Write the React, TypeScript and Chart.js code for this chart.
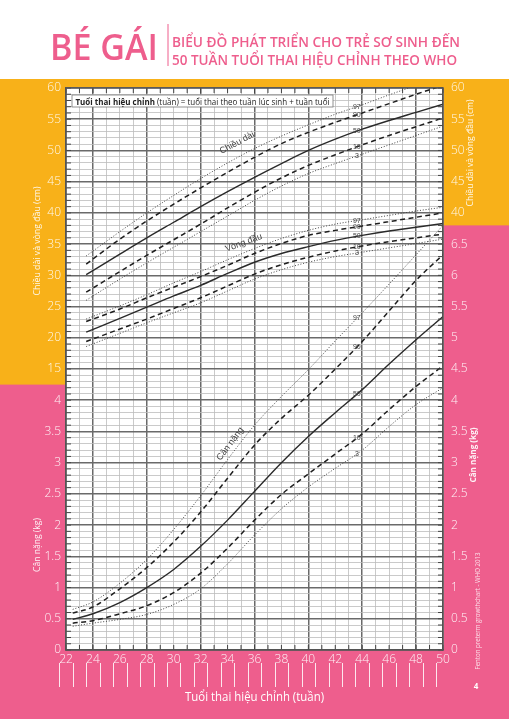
import React, { useEffect, useRef } from 'react';
import { Chart, registerables } from 'chart.js';

Chart.register(...registerables);

// Girls, Fenton preterm growth chart (WHO 2013)
const percentiles = ['97', '90', '50', '10', '3'];

const lengthWeeks = [23.5, 26, 28, 30, 32, 34, 36, 38, 40, 42, 44, 46, 48, 50];
const length97 = [33.1, 37.0, 40.0, 42.8, 45.5, 48.0, 50.3, 52.3, 54.1, 55.8, 57.3, 58.9, 60.4, 61.9];
const length90 = [31.8, 35.8, 38.7, 41.4, 44.0, 46.5, 48.9, 51.1, 52.9, 54.5, 56.0, 57.5, 59.0, 60.4];
const length50 = [30.1, 33.4, 36.0, 38.5, 41.0, 43.4, 45.7, 47.9, 50.0, 51.8, 53.4, 54.8, 56.1, 57.4];
const length10 = [27.3, 30.6, 33.2, 35.7, 38.2, 40.8, 43.3, 45.6, 47.6, 49.3, 50.9, 52.4, 53.8, 55.2];
const length3 = [26.0, 29.4, 32.0, 34.5, 37.0, 39.5, 42.0, 44.3, 46.3, 47.9, 49.4, 50.9, 52.4, 53.9];

const headWeeks = lengthWeeks;
const head97 = [23.0, 25.1, 26.9, 28.8, 30.6, 32.5, 34.3, 35.9, 37.2, 38.2, 38.9, 39.6, 40.3, 40.9];
const head90 = [22.6, 24.6, 26.4, 28.1, 29.8, 31.6, 33.5, 35.1, 36.4, 37.2, 37.9, 38.6, 39.3, 40.0];
const head50 = [20.9, 23.1, 24.9, 26.7, 28.4, 30.3, 32.1, 33.5, 34.6, 35.6, 36.4, 37.1, 37.7, 38.3];
const head10 = [19.4, 21.4, 23.0, 24.7, 26.4, 28.3, 30.2, 31.7, 32.9, 33.9, 34.7, 35.4, 36.0, 36.6];
const head3 = [18.6, 20.7, 22.4, 24.0, 25.6, 27.5, 29.4, 30.9, 32.1, 33.0, 33.7, 34.4, 35.1, 35.8];

const weightWeeks = [22.5, 24, 26, 28, 30, 32, 34, 36, 38, 40, 42, 44, 46, 48, 50];
const weight97 = [0.65, 0.77, 1.07, 1.45, 1.93, 2.47, 3.05, 3.60, 4.06, 4.49, 4.95, 5.40, 5.86, 6.33, 6.80];
const weight90 = [0.59, 0.69, 0.98, 1.32, 1.73, 2.21, 2.75, 3.28, 3.71, 4.08, 4.50, 4.94, 5.43, 5.92, 6.33];
const weight50 = [0.49, 0.58, 0.76, 1.00, 1.29, 1.66, 2.08, 2.54, 3.00, 3.42, 3.80, 4.17, 4.58, 4.97, 5.34];
const weight10 = [0.43, 0.47, 0.58, 0.71, 0.92, 1.23, 1.63, 2.08, 2.49, 2.82, 3.14, 3.46, 3.85, 4.22, 4.55];
const weight3 = [0.38, 0.43, 0.49, 0.57, 0.73, 0.98, 1.38, 1.84, 2.26, 2.61, 2.91, 3.20, 3.58, 3.93, 4.20];

// tick labels
const leftCmTicks = [15, 20, 25, 30, 35, 40, 45, 50, 55, 60];
const leftKgTicks = [0, 0.5, 1, 1.5, 2, 2.5, 3, 3.5, 4];
const rightCmTicks = [40, 45, 50, 55, 60];
const rightKgTicks = [0, 0.5, 1, 1.5, 2, 2.5, 3, 3.5, 4, 4.5, 5, 5.5, 6, 6.5];

const YELLOW = '#F8B119';
const PINK = '#EE5E8D';
const GRID_DARK = '#6a6a6a';
const GRID_LIGHT = '#bdbdbd';

const styles: Record<string, { dash: number[]; width: number; color: string }> = {
  '97': { dash: [1, 1.8], width: 1, color: '#444' },
  '90': { dash: [5, 3.5], width: 1.5, color: '#1e1e1e' },
  '50': { dash: [], width: 1.4, color: '#2a2a2a' },
  '10': { dash: [5, 3.5], width: 1.5, color: '#1e1e1e' },
  '3': { dash: [1, 1.8], width: 1, color: '#444' },
};

const groups = [
  { name: 'Chiều dài', axis: 'y', weeks: lengthWeeks, series: [length97, length90, length50, length10, length3], at: [34.7, 51.2], angle: -28 },
  { name: 'Vòng đầu', axis: 'y', weeks: headWeeks, series: [head97, head90, head50, head10, head3], at: [35.2, 35.2], angle: -20 },
  { name: 'Cân nặng', axis: 'yw', weeks: weightWeeks, series: [weight97, weight90, weight50, weight10, weight3], at: [34.2, 3.3], angle: -53 },
];

function fitText(ctx: CanvasRenderingContext2D, text: string, x: number, y: number, w: number) {
  const m = ctx.measureText(text).width;
  ctx.save();
  ctx.translate(x, y);
  ctx.scale(w / m, 1);
  ctx.textAlign = 'left';
  ctx.fillText(text, 0, 0);
  ctx.restore();
}

function vertText(ctx: CanvasRenderingContext2D, text: string, cx: number, cy: number, len: number, font: string) {
  ctx.save();
  ctx.font = font;
  ctx.translate(cx, cy);
  ctx.rotate(-Math.PI / 2);
  ctx.textBaseline = 'middle';
  fitText(ctx, text, -len / 2, 0, len);
  ctx.restore();
}

function valueAt(weeks: number[], vals: number[], w: number) {
  for (let i = 1; i < weeks.length; i++) {
    if (w <= weeks[i]) {
      const t = (w - weeks[i - 1]) / (weeks[i] - weeks[i - 1]);
      return vals[i - 1] + (vals[i] - vals[i - 1]) * t;
    }
  }
  return vals[vals.length - 1];
}

const pagePlugin = {
  id: 'page',
  beforeDraw(chart: any) {
    const { ctx, chartArea: a, scales } = chart;
    const bandLeft = scales.y.getPixelForValue(12.5);
    const bandRight = scales.yw.getPixelForValue(6.8);
    ctx.save();
    ctx.fillStyle = '#fff';
    ctx.fillRect(0, 0, chart.width, chart.height);
    ctx.fillStyle = PINK;
    ctx.fillRect(0, 79, chart.width, chart.height - 79);
    ctx.fillStyle = YELLOW;
    ctx.fillRect(0, 79, chart.width, bandRight - 79);
    ctx.fillRect(0, 79, a.left, bandLeft - 79);
    ctx.fillStyle = '#fff';
    ctx.fillRect(a.left, a.top, a.right - a.left, a.bottom - a.top);

    // header
    ctx.fillStyle = PINK;
    ctx.textBaseline = 'alphabetic';
    ctx.font = '600 36px "Open Sans"';
    fitText(ctx, 'BÉ GÁI', 50, 60, 108);
    ctx.font = '600 14px "Open Sans"';
    fitText(ctx, 'BIỂU ĐỒ PHÁT TRIỂN CHO TRẺ SƠ SINH ĐẾN', 172, 47, 288);
    fitText(ctx, '50 TUẦN TUỔI THAI HIỆU CHỈNH THEO WHO', 172, 64.5, 285);
    ctx.strokeStyle = PINK;
    ctx.lineWidth = 1;
    ctx.beginPath();
    ctx.moveTo(168, 24);
    ctx.lineTo(168, 66);
    ctx.stroke();
    ctx.restore();
  },
  afterDraw(chart: any) {
    const { ctx, chartArea: a, scales } = chart;
    const x = scales.x;
    const y = scales.y;
    ctx.save();

    // inner tick marks along the frame
    ctx.strokeStyle = '#444';
    ctx.lineWidth = 1;
    ctx.beginPath();
    for (let w = 22; w <= 50; w++) {
      const px = x.getPixelForValue(w);
      ctx.moveTo(px, a.top);
      ctx.lineTo(px, a.top + 5);
      ctx.moveTo(px, a.bottom);
      ctx.lineTo(px, a.bottom - 5);
    }
    for (let v = -30; v <= 60; v++) {
      const py = y.getPixelForValue(v);
      ctx.moveTo(a.left, py);
      ctx.lineTo(a.left + 5, py);
      ctx.moveTo(a.right, py);
      ctx.lineTo(a.right - 5, py);
    }
    ctx.stroke();

    // frame
    ctx.strokeStyle = '#555';
    ctx.lineWidth = 1.3;
    ctx.strokeRect(a.left, a.top, a.right - a.left, a.bottom - a.top);

    // white marks under the week axis
    ctx.strokeStyle = 'rgba(255,255,255,0.85)';
    ctx.lineWidth = 1;
    ctx.beginPath();
    for (let i = 0; i <= 28; i++) {
      const px = Math.round(x.getPixelForValue(21.5 + i)) + 0.5;
      ctx.moveTo(px, 663);
      ctx.lineTo(px, 687);
    }
    ctx.stroke();

    // formula box
    ctx.fillStyle = '#fff';
    ctx.fillRect(72, 95, 261, 12);
    ctx.strokeStyle = '#777';
    ctx.lineWidth = 0.8;
    ctx.strokeRect(72, 95, 261, 12);
    const boldPart = 'Tuổi thai hiệu chỉnh';
    const restPart = ' (tuần) = tuổi thai theo tuần lúc sinh + tuần tuổi';
    ctx.font = 'bold 9px "Open Sans"';
    const bw = ctx.measureText(boldPart).width;
    ctx.font = '9px "Open Sans"';
    const rw = ctx.measureText(restPart).width;
    const k = 254 / (bw + rw);
    ctx.fillStyle = '#222';
    ctx.textBaseline = 'alphabetic';
    ctx.font = 'bold 9px "Open Sans"';
    fitText(ctx, boldPart, 75.5, 104.5, bw * k);
    ctx.font = '9px "Open Sans"';
    fitText(ctx, restPart, 75.5 + bw * k, 104.5, rw * k);

    // percentile labels and curve names
    ctx.fillStyle = '#444';
    ctx.textAlign = 'center';
    ctx.textBaseline = 'middle';
    groups.forEach((g) => {
      const ys = scales[g.axis];
      ctx.font = '7px "Liberation Sans"';
      g.series.forEach((vals, i) => {
        const wl = 43.6;
        ctx.fillText(percentiles[i], x.getPixelForValue(wl), ys.getPixelForValue(valueAt(g.weeks, vals, wl)));
      });
      ctx.save();
      ctx.font = '9px "Liberation Sans"';
      ctx.translate(x.getPixelForValue(g.at[0]), ys.getPixelForValue(g.at[1]));
      ctx.rotate((g.angle * Math.PI) / 180);
      ctx.fillText(g.name, 0, 0);
      ctx.restore();
    });

    // side titles
    ctx.fillStyle = 'rgba(255,255,255,0.92)';
    vertText(ctx, 'Chiều dài và vòng đầu (cm)', 37, 241, 109, '9px "Open Sans"');
    vertText(ctx, 'Cân nặng (kg)', 37, 545, 54, '9px "Open Sans"');
    vertText(ctx, 'Chiều dài và vòng đầu (cm)', 470, 153, 107, '9px "Open Sans"');
    vertText(ctx, 'Cân nặng (kg)', 473, 455, 55, 'bold 9px "Open Sans"');
    ctx.fillStyle = 'rgba(255,255,255,0.8)';
    vertText(ctx, 'Fenton preterm growthchart - WHO 2013', 478, 611, 117, '7px "Open Sans"');

    ctx.fillStyle = '#fff';
    ctx.textBaseline = 'middle';
    ctx.font = '13px "Open Sans"';
    fitText(ctx, 'Tuổi thai hiệu chỉnh (tuần)', 185, 697, 139);
    ctx.font = 'bold 8px "Open Sans"';
    ctx.textAlign = 'center';
    ctx.fillText('4', 476, 687);
    ctx.restore();
  },
};

const tickFont = { family: '"Open Sans"', size: 12, weight: '300' as any };

export default function App() {
  const canvasRef = useRef<HTMLCanvasElement | null>(null);

  useEffect(() => {
    if (!canvasRef.current) return;

    const datasets: any[] = [];
    groups.forEach((g) => {
      g.series.forEach((vals, i) => {
        const st = styles[percentiles[i]];
        datasets.push({
          label: `${g.name} ${percentiles[i]}`,
          data: g.weeks.map((w, j) => ({ x: w, y: vals[j] })),
          xAxisID: 'x',
          yAxisID: g.axis,
          borderColor: st.color,
          borderWidth: st.width,
          borderDash: st.dash,
          pointRadius: 0,
          fill: false,
          cubicInterpolationMode: 'monotone',
        });
      });
    });

    const chart = new Chart(canvasRef.current, {
      type: 'line',
      data: { datasets },
      options: {
        animation: false,
        responsive: false,
        maintainAspectRatio: false,
        layout: { padding: { left: 8, right: 8, top: 88, bottom: 49 } },
        plugins: { legend: { display: false }, tooltip: { enabled: false } },
        scales: {
          x: {
            type: 'linear',
            min: 22,
            max: 50,
            afterFit: (s: any) => { s.height = 20; },
            ticks: {
              stepSize: 1,
              autoSkip: false,
              maxRotation: 0,
              padding: 2,
              color: 'rgba(255,255,255,0.92)',
              font: tickFont,
              callback: (v: any) => (v % 2 === 0 ? String(v) : ''),
            },
            grid: {
              drawTicks: false,
              color: (c: any) => ((c.tick.value - 24) % 4 === 0 ? GRID_DARK : GRID_LIGHT),
              lineWidth: (c: any) => ((c.tick.value - 24) % 4 === 0 ? 1.5 : 0.8),
            },
            border: { color: '#555', width: 1.3 },
          },
          y: {
            type: 'linear',
            position: 'left',
            min: -30,
            max: 60,
            afterFit: (s: any) => { s.width = 58; },
            ticks: {
              stepSize: 1,
              autoSkip: false,
              padding: 5,
              color: 'rgba(255,255,255,0.92)',
              font: tickFont,
              callback: (v: any) => {
                if (leftCmTicks.includes(v)) return String(v);
                const kg = (v + 30) / 10;
                if (v % 5 === 0 && leftKgTicks.includes(kg)) return String(kg);
                return '';
              },
            },
            grid: {
              drawTicks: false,
              color: (c: any) => (c.tick.value % 5 === 0 ? GRID_DARK : GRID_LIGHT),
              lineWidth: (c: any) => (c.tick.value % 5 === 0 ? 1.5 : 0.8),
            },
            border: { color: '#555', width: 1.3 },
          },
          yw: {
            type: 'linear',
            position: 'right',
            min: 0,
            max: 9,
            afterFit: (s: any) => { s.width = 58; },
            ticks: {
              stepSize: 0.5,
              autoSkip: false,
              padding: 8,
              color: 'rgba(255,255,255,0.92)',
              font: tickFont,
              callback: (v: any) => {
                if (rightKgTicks.includes(v)) return String(v);
                const cm = Math.round(v * 10 - 30);
                if (rightCmTicks.includes(cm)) return String(cm);
                return '';
              },
            },
            grid: { display: false, drawTicks: false },
            border: { color: '#555', width: 1.3 },
          },
        },
      },
      plugins: [pagePlugin],
    } as any);

    return () => {
      chart.destroy();
    };
  }, []);

  return (
    <div style={{ position: 'absolute', left: 0, top: 0, width: 509, height: 719 }}>
      <canvas ref={canvasRef} width={509} height={719} style={{ display: 'block', width: 509, height: 719 }} />
    </div>
  );
}
